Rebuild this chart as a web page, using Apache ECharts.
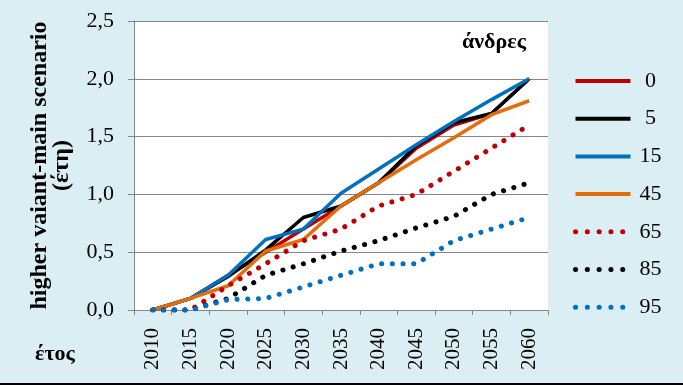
<!DOCTYPE html>
<html>
<head>
<meta charset="utf-8">
<script src="https://cdn.jsdelivr.net/npm/echarts@6/dist/echarts.min.js"></script>
<style>
html,body{margin:0;padding:0;background:#DAEEF3;}
#c{width:683px;height:385px;}
</style>
</head>
<body>
<div id="c"></div>
<script>
const years = ['2010','2015','2020','2025','2030','2035','2040','2045','2050','2055','2060'];
const yTicks = [0, 0.5, 1.0, 1.5, 2.0, 2.5];
const seriesNames = ['0','5','15','45','65','85','95'];
const s0  = [0, 0.1, 0.3, 0.5, 0.7, 0.9, 1.1, 1.4, 1.6, 1.7, 2.0];
const s5  = [0, 0.1, 0.29, 0.52, 0.8, 0.9, 1.1, 1.42, 1.62, 1.7, 2.0];
const s15 = [0, 0.1, 0.3, 0.61, 0.7, 1.01, 1.22, 1.43, 1.63, 1.82, 2.0];
const s45 = [0, 0.1, 0.21, 0.51, 0.61, 0.9, 1.1, 1.3, 1.49, 1.69, 1.81];
const s65 = [0, 0, 0.21, 0.4, 0.6, 0.7, 0.9, 1.0, 1.2, 1.4, 1.6];
const s85 = [0, 0, 0.1, 0.3, 0.4, 0.51, 0.6, 0.71, 0.81, 1.0, 1.1];
const s95 = [0, 0, 0.09, 0.1, 0.2, 0.3, 0.4, 0.4, 0.6, 0.7, 0.8];

const FONT = "'Liberation Serif','Times New Roman',serif";
const colors = ['#C00000','#000000','#0070C0','#E46C0A','#C00000','#000000','#0070C0'];
const dataSets = [s0, s5, s15, s45, s65, s85, s95];
const dotted = [false,false,false,false,true,true,true];

const lineStyleFor = i => dotted[i]
  ? {color: colors[i], width: 5, type: [0.1, 10.6], cap: 'round'}
  : {color: colors[i], width: 3.5, type: 'solid', cap: 'butt', join: 'round'};

const chart = echarts.init(document.getElementById('c'), null, {renderer:'canvas'});
const series = seriesNames.map((n,i)=>({
  name: n,
  type: 'line',
  data: dataSets[i],
  symbol: 'none',
  smooth: false,
  color: colors[i],
  lineStyle: lineStyleFor(i),
  emphasis: {disabled: true},
  animation: false
}));

chart.setOption({
  backgroundColor: '#DAEEF3',
  animation: false,
  grid: {left: 134, right: 135, top: 21, bottom: 75, show: true, backgroundColor: '#FFFFFF', borderWidth: 0},
  xAxis: {
    type: 'category',
    data: years,
    boundaryGap: true,
    axisLine: {show: true, lineStyle: {color: '#868686', width: 1}},
    axisTick: {show: true, length: 5, lineStyle: {color: '#868686'}},
    axisLabel: {rotate: 90, margin: 18, color: '#000', fontFamily: FONT, fontSize: 21},
    splitLine: {show: false}
  },
  yAxis: {
    type: 'value',
    min: 0, max: 2.5, interval: 0.5,
    axisLine: {show: true, lineStyle: {color: '#868686', width: 1}},
    axisTick: {show: true, length: 6, lineStyle: {color: '#868686'}},
    axisLabel: {
      margin: 20, color: '#000', fontFamily: FONT, fontSize: 22,
      formatter: v => yTicks.includes(v) ? v.toFixed(1).replace('.', ',') : ''
    },
    splitLine: {show: true, lineStyle: {color: '#868686', width: 1}},
    name: 'higher vaiant-main scenario\n(έτη)',
    nameLocation: 'middle',
    nameGap: 61,
    nameTextStyle: {fontFamily: FONT, fontSize: 24, fontWeight: 'bold', color: '#000', lineHeight: 22}
  },
  legend: {
    orient: 'vertical',
    left: 568,
    top: 65,
    itemWidth: 55,
    itemHeight: 14,
    itemGap: 15.7,
    data: seriesNames.map((n,i)=>({
      name: n,
      itemStyle: {color: 'rgba(0,0,0,0)', borderWidth: 0, opacity: 0},
      lineStyle: dotted[i]
        ? {color: colors[i], width: 5, type: [0.1, 11.7], cap: 'round'}
        : {color: colors[i], width: 4, type: 'solid', cap: 'butt'}
    })),
    formatter: '{a|{name}}',
    textStyle: {
      rich: {a: {width: 30, align: 'center', fontFamily: FONT, fontSize: 22, color: '#000', lineHeight: 22}}
    },
    selectedMode: false
  },
  graphic: [
    {type: 'text', left: 462, top: 31, style: {text: 'άνδρες', font: "bold 22px 'Liberation Serif','Times New Roman',serif", fill: '#000'}},
    {type: 'text', left: 35, top: 343, style: {text: 'έτος', font: "bold 22px 'Liberation Serif','Times New Roman',serif", fill: '#000'}},
    {type: 'rect', left: 0, top: 383, shape: {width: 683, height: 2}, style: {fill: '#000'}}
  ],
  series: series
});
</script>
</body>
</html>
